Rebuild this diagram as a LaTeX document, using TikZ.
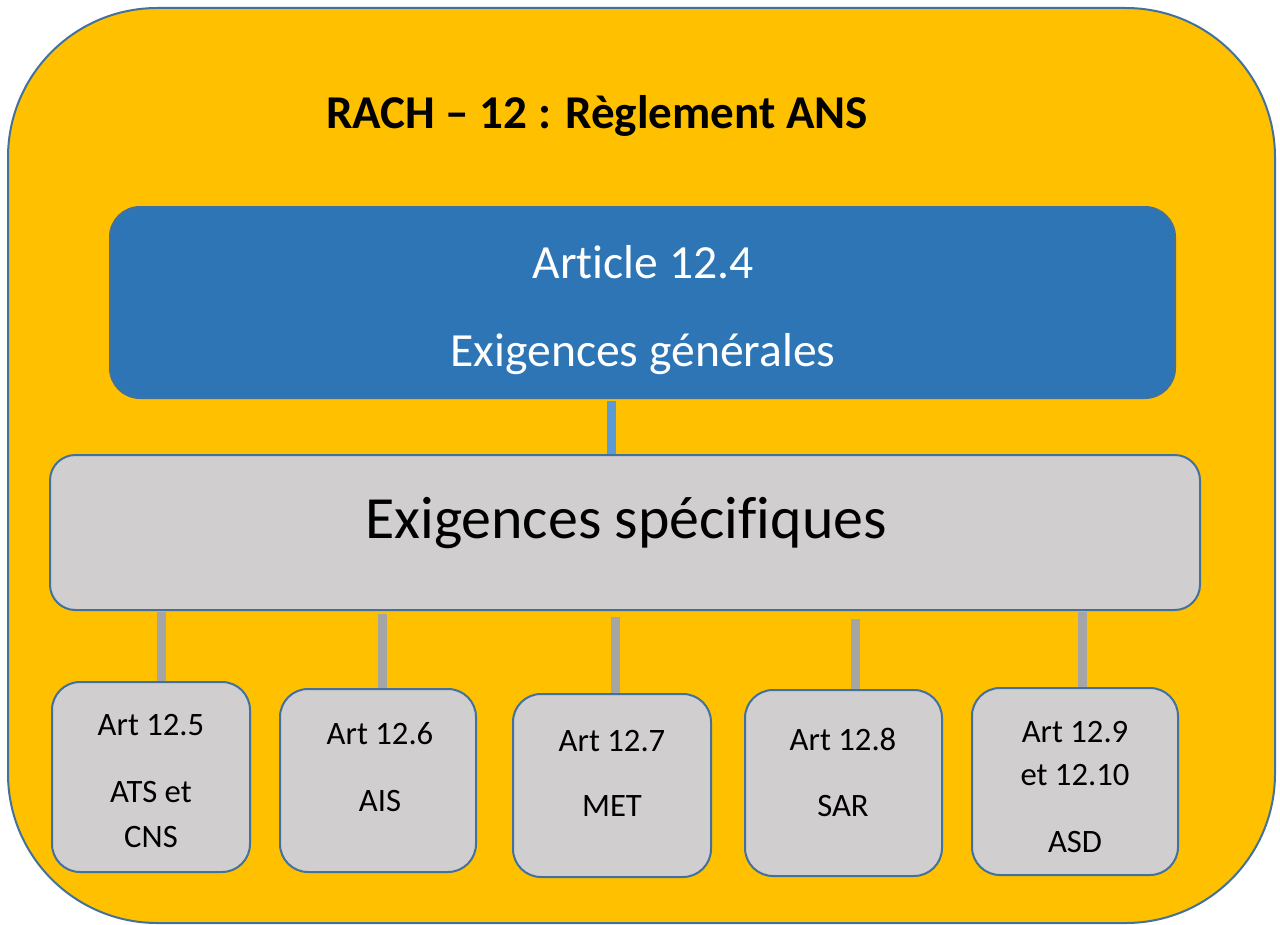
\documentclass[tikz,border=0pt]{standalone}
\usepackage{fontspec}
\setmainfont{Carlito}[Ligatures=NoCommon, RawFeature={-calt}]
\definecolor{frame}{HTML}{FFC000}
\definecolor{edge}{HTML}{41719C}
\definecolor{head}{HTML}{2E75B6}
\definecolor{panel}{HTML}{D0CECE}
\definecolor{linkblue}{HTML}{5B9BD5}
\definecolor{linkgrey}{HTML}{A5A5A5}
% a zero kern keeps two letters as separate glyphs
\newcommand{\nolig}{\kern0pt{}}
\tikzset{
  box/.style={draw=edge, line width=1.5pt, inner sep=0pt, rectangle},
  leaf/.style={box, fill=panel, rounded corners=21pt, minimum width=#1},
  leaf/.default=148pt,
  txt/.style={anchor=base, inner sep=0pt, font=\fontsize{24.5}{29}\selectfont},
  glink/.style={draw=linkgrey, line width=6.75pt},
  blink/.style={draw=linkblue, line width=6.5pt},
}
\begin{document}
\begin{tikzpicture}[x=0.75pt, y=-0.75pt]
\useasboundingbox (0,0) rectangle (1280,924);
% outer frame
\node[box, fill=frame, rounded corners=112pt, minimum width=950.25pt, minimum height=686.25pt] (frame) at (641.5,465.5) {};
\node[anchor=base, inner sep=0pt, font=\fontsize{35.3}{42}\selectfont\bfseries] (title) at (597,128) {RACH – 12 : Règlement ANS};
% general requirements
\node[box, fill=head, rounded corners=22.5pt, minimum width=798.75pt, minimum height=143.25pt] (gen) at (642.5,302.5) {};
\node[anchor=base, inner sep=0pt, text=white, font=\fontsize{35.7}{42}\selectfont] (genA) at (643,278) {Art\nolig icle 12.4};
\node[anchor=base, inner sep=0pt, text=white, font=\fontsize{35.7}{42}\selectfont] (genB) at (643,366) {Exigences générales};
% specific requirements
\node[box, fill=panel, rounded corners=19pt, minimum width=862.5pt, minimum height=116.25pt] (spec) at (625,532.5) {};
\node[anchor=base, inner sep=0pt, font=\fontsize{44.9}{52}\selectfont] (specT) at (626,538) {Exigences spécif\nolig iques};
% articles
\node[leaf=148.5pt, minimum height=142.5pt] (a5) at (151,777) {};
\node[leaf=147pt, minimum height=137.25pt] (a6) at (378,780.5) {};
\node[leaf=148.5pt, minimum height=137.25pt] (a7) at (612,785.5) {};
\node[leaf=147.75pt, minimum height=139.5pt] (a8) at (843.5,783) {};
\node[leaf=154.5pt, minimum height=140.25pt] (a9) at (1075,781.5) {};
\node[txt] (a5a) at (151,735) {Art 12.5};
\node[txt] (a5b) at (151,802) {ATS et};
\node[txt] (a5c) at (151,847) {CNS};
\node[txt] (a6a) at (380,744) {Art 12.6};
\node[txt] (a6b) at (380,811) {AIS};
\node[txt] (a7a) at (612,751) {Art 12.7};
\node[txt] (a7b) at (612,816) {MET};
\node[txt] (a8a) at (843,750) {Art 12.8};
\node[txt] (a8b) at (843,816) {SAR};
\node[txt] (a9a) at (1075,742) {Art 12.9};
\node[txt] (a9b) at (1075,785) {et 12.10};
\node[txt] (a9c) at (1075,852) {ASD};
% connectors
\coordinate (g0) at (611.5,401);
\draw[blink] (g0) -- (g0 |- spec.north);
\coordinate (c5) at (161.5,612);
\coordinate (c6) at (382,614);
\coordinate (c7) at (615,617);
\coordinate (c8) at (855,619);
\coordinate (c9) at (1082.5,612);
\draw[glink] (c5) -- (c5 |- a5.north);
\draw[glink] (c6) -- (c6 |- a6.north);
\draw[glink] (c7) -- (c7 |- a7.north);
\draw[glink] (c8) -- (c8 |- a8.north);
\draw[glink] (c9) -- (c9 |- a9.north);
\end{tikzpicture}
\end{document}
